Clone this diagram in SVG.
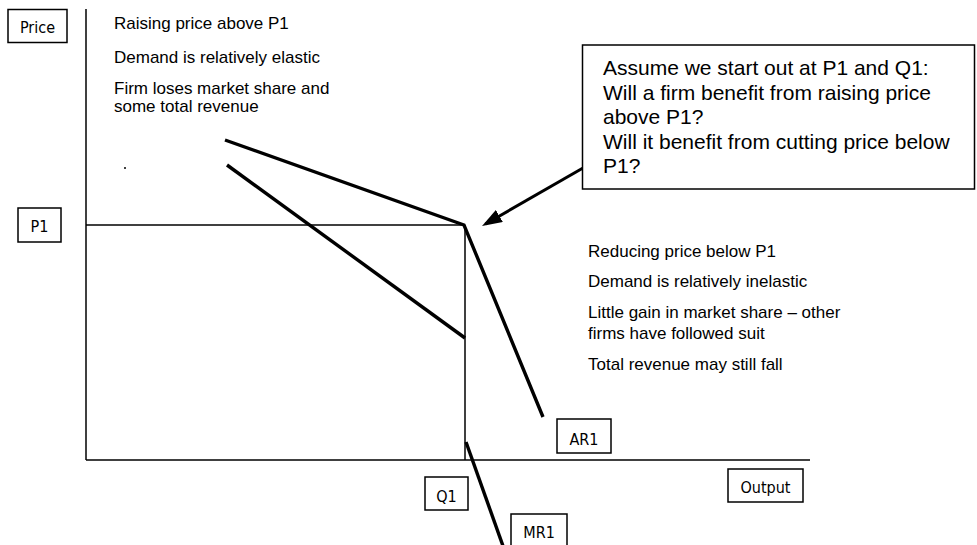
<svg xmlns="http://www.w3.org/2000/svg" width="977" height="545" viewBox="0 0 977 545">
  <style>
    .lbl rect { fill: #fff; stroke: #000; stroke-width: 1.5; }
    .lbl text { font-family: "DejaVu Sans Condensed", "DejaVu Sans", sans-serif; font-size: 16px; text-anchor: middle; fill: #000; }
    .note { font-family: "Liberation Sans", Arial, sans-serif; font-size: 17px; fill: #000; }
    .callout rect { fill: #fff; stroke: #000; stroke-width: 1.5; }
    .callout text { font-family: "Liberation Sans", Arial, sans-serif; font-size: 21px; fill: #000; }
    .axis { stroke: #000; stroke-width: 1.5; fill: none; }
    .curve { stroke: #000; stroke-width: 3.4; fill: none; stroke-linejoin: miter; }
    .arrow { stroke: #000; stroke-width: 3; fill: none; }
  </style>
  <defs>
    <marker id="head" viewBox="0 0 20 14" refX="16" refY="7" markerWidth="20" markerHeight="14" markerUnits="userSpaceOnUse" orient="auto">
      <path d="M0,0 L20,7 L0,14 z" fill="#000"/>
    </marker>
  </defs>
  <rect width="977" height="545" fill="#fff"/>

  <g id="connectors">
    <line class="axis" x1="86" y1="9" x2="86" y2="460"/>
    <line class="axis" x1="86" y1="460" x2="810" y2="460"/>
    <line class="axis" x1="86" y1="225" x2="465" y2="225"/>
    <line class="axis" x1="465" y1="225" x2="465" y2="460"/>
    <polyline id="ar-curve" class="curve" points="225,140 464,225 543,417"/>
    <line id="mr-curve-upper" class="curve" x1="227" y1="165" x2="465" y2="338"/>
    <line id="mr-curve-lower" class="curve" x1="466" y1="442" x2="503" y2="546"/>
    <line id="callout-arrow" class="arrow" x1="583" y1="168" x2="485.5" y2="224" marker-end="url(#head)"/>
    <circle cx="125" cy="168" r="1" fill="#000"/>
  </g>

  <g id="price-label" class="lbl">
    <rect x="8" y="9.5" width="59" height="33"/>
    <text x="37.5" y="33">Price</text>
  </g>
  <g id="p1-label" class="lbl">
    <rect x="18" y="208" width="43" height="34"/>
    <text x="39.5" y="232">P1</text>
  </g>
  <g id="ar1-label" class="lbl">
    <rect x="557" y="419" width="54" height="34"/>
    <text x="584" y="445">AR1</text>
  </g>
  <g id="q1-label" class="lbl">
    <rect x="425" y="477" width="43" height="33"/>
    <text x="446.5" y="502">Q1</text>
  </g>
  <g id="mr1-label" class="lbl">
    <rect x="511" y="514" width="56" height="40"/>
    <text x="539" y="538">MR1</text>
  </g>
  <g id="output-label" class="lbl">
    <rect x="728" y="469" width="75" height="33"/>
    <text x="765.5" y="493">Output</text>
  </g>

  <g id="raise-note">
    <text class="note" x="114" y="29">Raising price above P1</text>
    <text class="note" x="114" y="62.5">Demand is relatively elastic</text>
    <text class="note" x="114" y="94">Firm loses market share and</text>
    <text class="note" x="114" y="112">some total revenue</text>
  </g>

  <g id="reduce-note">
    <text class="note" x="588" y="257">Reducing price below P1</text>
    <text class="note" x="588" y="287">Demand is relatively inelastic</text>
    <text class="note" x="588" y="318">Little gain in market share – other</text>
    <text class="note" x="588" y="339">firms have followed suit</text>
    <text class="note" x="588" y="370">Total revenue may still fall</text>
  </g>

  <g id="question-callout" class="callout">
    <rect x="582.5" y="45" width="392" height="144"/>
    <text x="603" y="75">Assume we start out at P1 and Q1:</text>
    <text x="603" y="99.6">Will a firm benefit from raising price</text>
    <text x="603" y="124.2">above P1?</text>
    <text x="603" y="148.8">Will it benefit from cutting price below</text>
    <text x="603" y="173.4">P1?</text>
  </g>
</svg>
